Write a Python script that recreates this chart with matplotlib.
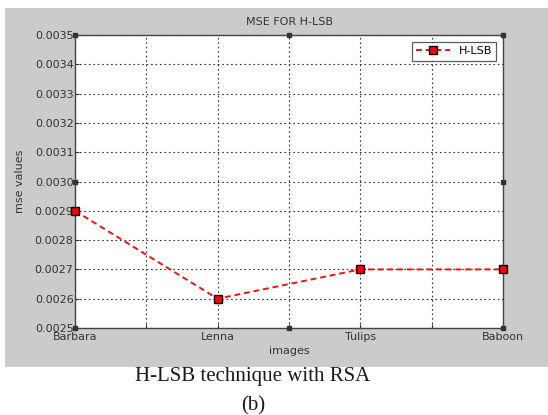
import numpy as np
import matplotlib.pyplot as plt
from matplotlib.patches import Rectangle

# data
images = ['Barbara', 'Lenna', 'Tulips', 'Baboon']
mse = [0.0029, 0.0026, 0.0027, 0.0027]
xpos = [1, 2, 3, 4]

W, H = 548, 415
fig = plt.figure(figsize=(W/100, H/100), dpi=100, facecolor='white')

# grey matlab-style figure panel
fig.patches.append(Rectangle((5/W, 1 - 367/H), 543/W, (367 - 8)/H,
                             transform=fig.transFigure, facecolor='#cbcbcb',
                             edgecolor='none', zorder=-5))

ax = fig.add_axes([75/W, 1 - 328/H, (503 - 75)/W, (328 - 35)/H])
ax.set_facecolor('white')

ax.plot(xpos, mse, color='#ee1111', linestyle=(0, (3, 2)), marker='s',
        linewidth=1.4, markersize=6,
        markerfacecolor='red', markeredgecolor='black', markeredgewidth=1.0,
        label='H-LSB', clip_on=False, zorder=5)

ax.set_xlim(1, 4)
ax.set_ylim(0.0025, 0.0035)
ax.set_xticks(np.arange(1, 4.01, 0.5))
ax.set_xticklabels(['Barbara', '', 'Lenna', '', 'Tulips', '', 'Baboon'])
ax.set_yticks(np.arange(0.0025, 0.00351, 0.0001))
ax.set_yticklabels(['%.4f' % v for v in np.arange(0.0025, 0.00351, 0.0001)])
ax.tick_params(labelsize=8, colors='#333333', length=3, direction='in')
ax.tick_params(axis='x', pad=3)
ax.tick_params(axis='y', pad=1)
ax.grid(True, linestyle=(0, (1.5, 2.5)), color='#333333', linewidth=0.8)
for s in ax.spines.values():
    s.set_color('#444444')
    s.set_linewidth(1.0)

# little black boxes on the frame
bx = [1, 2.5, 4, 1, 4, 1, 2.5, 4]
by = [0.0035, 0.0035, 0.0035, 0.0030, 0.0030, 0.0025, 0.0025, 0.0025]
ax.plot(bx, by, 's', color='#333333', markersize=3.5, clip_on=False, zorder=6)

ax.set_title('MSE FOR H-LSB', fontsize=8, color='#333333', pad=7)
ax.set_xlabel('images', fontsize=8, color='#333333', labelpad=3)
ax.set_ylabel('mse values', fontsize=8, color='#333333', labelpad=7)

leg = ax.legend(loc='upper right', fontsize=8, frameon=True, fancybox=False,
                handlelength=3, borderaxespad=0.6)
leg.get_frame().set_edgecolor('#333333')
leg.get_frame().set_linewidth(0.9)

fig.text(253/W, 1 - 377/H, 'H-LSB technique with RSA', ha='center', va='center',
         fontsize=15, family='Liberation Serif', color='#1a1a1a')
fig.text(253/W, 1 - 406/H, '(b)', ha='center', va='center',
         fontsize=15, family='Liberation Serif', color='#1a1a1a')

fig.savefig('out.png', dpi=100, facecolor='white')
